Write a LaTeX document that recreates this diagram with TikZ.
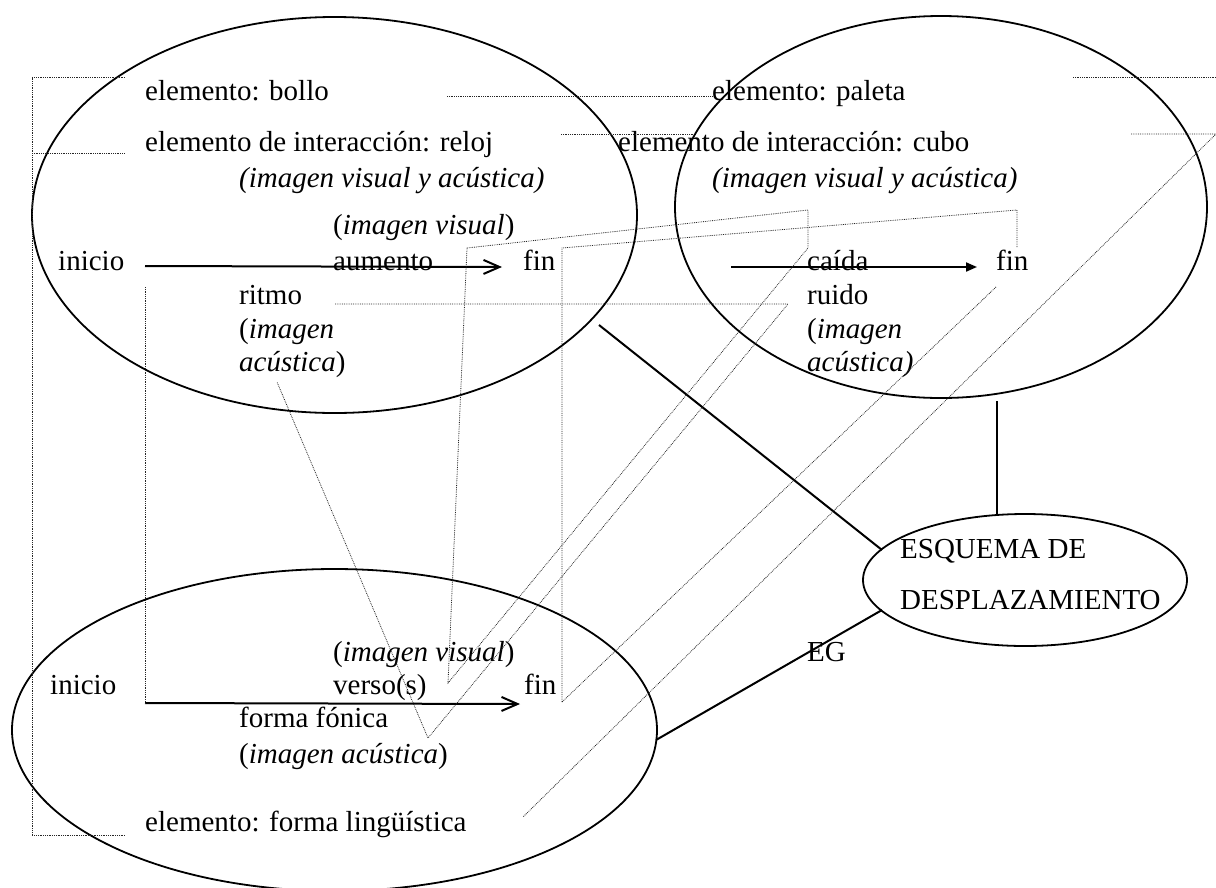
\documentclass[tikz,border=0pt]{standalone}
\usepackage{fontspec}
\setmainfont{Liberation Serif}
\usetikzlibrary{shapes.geometric,arrows.meta}
\begin{document}
\begin{tikzpicture}[x=1pt,y=-1pt,
  lbl/.style={anchor=base west,inner sep=0pt,font=\fontsize{29}{34}\selectfont},
  oval/.style={draw,ellipse,line width=1.8pt,inner sep=0pt},
  link/.style={line width=2pt},
  dots/.style={densely dotted,line width=0.8pt,black!85},
  barb/.style={line width=2pt,-{Straight Barb[length=16pt,width=14pt]}},
  tri/.style={line width=2pt,-{Triangle[length=11pt,width=9pt]}}
  ]
\useasboundingbox (0,0) rectangle (1216,887);
% ellipses
\node[oval,minimum width=605pt,minimum height=396pt] (A) at (334.5,215) {};
\node[oval,minimum width=532pt,minimum height=382pt] (B) at (941,207) {};
\node[oval,minimum width=645pt,minimum height=322pt] (C) at (334.5,730) {};
\node[oval,minimum width=324pt,minimum height=132pt] (D) at (1025,580) {};
% texts top-left
\node[lbl] (tA1) at (145,100) {elemento: bollo};
\node[lbl] (tA2) at (145,151) {elemento de interacción: reloj};
\node[lbl] (tA3) at (239,187) {\textit{(imagen visual y acústica)}};
\node[lbl] (tA4) at (333,234) {(\textit{imagen visual})};
\node[lbl] (tA5) at (58,270) {inicio};
\node[lbl] (tA6) at (333,270) {aumento};
\node[lbl] (tA7) at (523,270) {fin};
\node[lbl] (tA8) at (239,304) {ritmo};
\node[lbl] (tA9) at (239,338) {(\textit{imagen}};
\node[lbl] (tA10) at (239,371) {\textit{acústica})};
% texts top-right
\node[lbl] (tB1) at (712,100) {elemento: paleta};
\node[lbl] (tB2) at (618,151) {elemento de interacción: cubo};
\node[lbl] (tB3) at (712,187) {\textit{(imagen visual y acústica)}};
\node[lbl] (tB4) at (807,270) {caída};
\node[lbl] (tB5) at (996,270) {fin};
\node[lbl] (tB6) at (807,304) {ruido};
\node[lbl] (tB7) at (807,338) {(\textit{imagen}};
\node[lbl] (tB8) at (807,371) {\textit{acústica)}};
% texts bottom
\node[lbl] (tC1) at (333,661) {(\textit{imagen visual})};
\node[lbl] (tC2) at (50,694) {inicio};
\node[lbl] (tC3) at (333,694) {verso(s)};
\node[lbl] (tC4) at (524,694) {fin};
\node[lbl] (tC5) at (239,727) {forma fónica};
\node[lbl] (tC6) at (239,763) {(\textit{imagen acústica})};
\node[lbl] (tC7) at (145,831) {elemento: forma lingüística};
% schema
\node[lbl] (tD1) at (900,558) {ESQUEMA DE};
\node[lbl] (tD2) at (900,609) {DESPLAZAMIENTO};
\node[lbl] (tEG) at (807,661) {EG};
% arrows
\coordinate (a1s) at (145,266); \coordinate (a1e) at (502,267);
\coordinate (a2s) at (731,267); \coordinate (a2e) at (977,267);
\coordinate (a3s) at (145,703); \coordinate (a3e) at (520,704);
\draw[barb] (a1s) -- (a1e);
\draw[tri] (a2s) -- (a2e);
\draw[barb] (a3s) -- (a3e);
% solid connectors
\coordinate (Aout) at (599,325); \coordinate (Din1) at (882,550);
\coordinate (Bout) at (997,401); \coordinate (Din2) at (997,514);
\coordinate (Cout) at (656,740); \coordinate (Din3) at (882,610);
\draw[link] (Aout) -- (Din1);
\draw[link] (Bout) -- (Din2);
\draw[link] (Cout) -- (Din3);
% dotted links
\draw[dots] (125,77) -- (32,77) -- (32,835) -- (125,835);
\draw[dots] (32,153) -- (125,153);
\draw[dots] (145,287) -- (145,703);
\draw[dots] (447,96) -- (712,96);
\draw[dots] (561,134) -- (693,134);
\draw[dots] (467,248) -- (808,210) -- (808,248) -- (448,683) -- cycle;
\draw[dots] (562,702) -- (562,248) -- (1017,210) -- (1017,247);
\draw[dots] (996,287) -- (562,702);
\draw[dots] (335,304) -- (788,304) -- (428,738) -- (277,382);
\draw[dots] (1073,77) -- (1216,77);
\draw[dots] (1131,134) -- (1216,134) -- (523,817);
\end{tikzpicture}
\end{document}
